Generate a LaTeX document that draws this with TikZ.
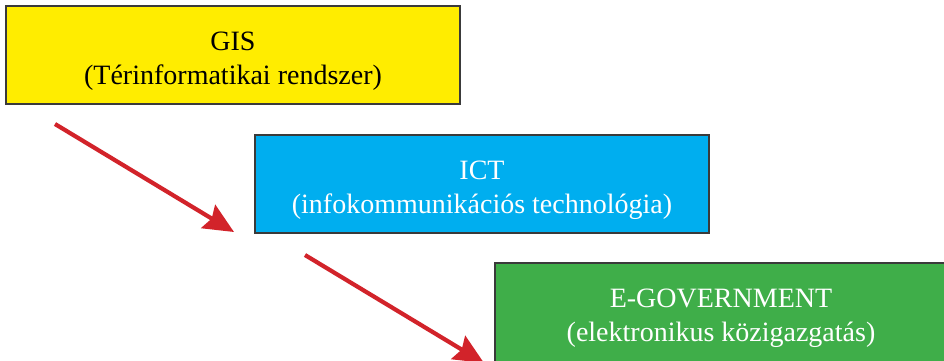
\documentclass[tikz,border=0pt]{standalone}
\usepackage{fontspec}
\setmainfont{Liberation Serif}
\usetikzlibrary{arrows.meta}
\definecolor{gisyellow}{HTML}{FFED00}
\definecolor{ictblue}{HTML}{00AEEF}
\definecolor{egovgreen}{HTML}{3FAE49}
\definecolor{arrowred}{HTML}{D2232A}
\definecolor{boxborder}{HTML}{3A3A3A}
\begin{document}
\begin{tikzpicture}[x=1pt,y=-1pt,
  box/.style={draw=boxborder, line width=1.3pt},
  lbl/.style={align=center, font=\fontsize{28}{34}\selectfont, inner sep=0pt},
  redarrow/.style={draw=arrowred, line width=4.2pt, -{Stealth[length=30pt,width=27pt,inset=4pt]}}]
\useasboundingbox (0,0) rectangle (944,360);
\fill[white] (0,0) rectangle (944,360);
\draw[box, fill=gisyellow] (6,6) rectangle (460,104);
\draw[box, fill=ictblue] (255,135) rectangle (709,233);
\draw[box, fill=egovgreen] (495,263) rectangle (950,366);
\node[lbl, text=black] (gis) at (233,61.5) {GIS\\(Térinformatikai rendszer)};
\node[lbl, text=white] (ict) at (482,190.5) {ICT\\(infokommunikációs technológia)};
\node[lbl, text=white] (egov) at (721,318.5) {E-GOVERNMENT\\(elektronikus közigazgatás)};
\coordinate (a1s) at (55,124);
\coordinate (a1e) at (234,232);
\coordinate (a2s) at (305,255);
\coordinate (a2e) at (484,363);
\draw[redarrow] (a1s) -- (a1e);
\draw[redarrow] (a2s) -- (a2e);
\end{tikzpicture}
\end{document}
